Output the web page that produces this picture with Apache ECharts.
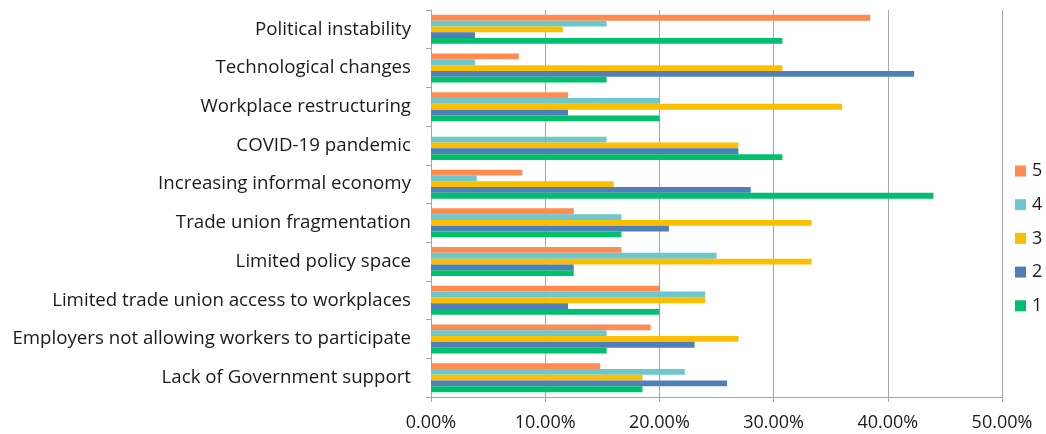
<!DOCTYPE html>
<html>
<head>
<meta charset="utf-8">
<script src="https://cdn.jsdelivr.net/npm/echarts@6/dist/echarts.min.js"></script>
<style>
html,body{margin:0;padding:0;background:#fff;}
#chart{width:1046px;height:434px;}
</style>
</head>
<body>
<div id="chart"></div>
<script>
// Categories listed bottom-to-top (ECharts draws first category at the bottom)
const categories = [
  "Lack of Government support",
  "Employers not allowing workers to participate",
  "Limited trade union access to workplaces",
  "Limited policy space",
  "Trade union fragmentation",
  "Increasing informal economy",
  "COVID-19 pandemic",
  "Workplace restructuring",
  "Technological changes",
  "Political instability"
];
// Values in percent, same order as categories
const s1 = [18.52, 15.38, 20.00, 12.50, 16.67, 44.00, 30.77, 20.00, 15.38, 30.77];
const s2 = [25.93, 23.08, 12.00, 12.50, 20.83, 28.00, 26.92, 12.00, 42.31, 3.85];
const s3 = [18.52, 26.92, 24.00, 33.33, 33.33, 16.00, 26.92, 36.00, 30.77, 11.54];
const s4 = [22.22, 15.38, 24.00, 25.00, 16.67, 4.00, 15.38, 20.00, 3.85, 15.38];
const s5 = [14.81, 19.23, 20.00, 16.67, 12.50, 8.00, 0.00, 12.00, 7.69, 38.46];
// Series listed top bar first within each group
const seriesNames = ["5", "4", "3", "2", "1"];
const seriesColors = ["#FF8B50", "#6CC8CC", "#FBBF00", "#4F7EBA", "#00C06E"];
const seriesData = [s5, s4, s3, s2, s1];
const xTickValues = [0, 10, 20, 30, 40, 50];

const FONT = "Open Sans";
const chart = echarts.init(document.getElementById('chart'), null, {renderer: 'canvas'});
chart.setOption({
  animation: false,
  backgroundColor: '#ffffff',
  textStyle: {fontFamily: FONT},
  grid: {left: 431, right: 44, top: 10, bottom: 37, containLabel: false},
  legend: {
    data: seriesNames,
    orient: 'vertical',
    left: 1010,
    top: 157,
    itemWidth: 11,
    itemHeight: 11,
    itemGap: 15.7,
    icon: 'rect',
    textStyle: {fontFamily: FONT, fontSize: 18, lineHeight: 18, color: '#1a1a1a', padding: [0,0,0,1]}
  },
  xAxis: {
    type: 'value',
    min: xTickValues[0],
    max: xTickValues[xTickValues.length - 1],
    interval: 10,
    axisLine: {show: true, lineStyle: {color: '#A6A6A6', width: 1}},
    axisTick: {show: true, length: 5, lineStyle: {color: '#A6A6A6'}},
    splitLine: {show: true, lineStyle: {color: '#A6A6A6', width: 1}},
    axisLabel: {
      formatter: v => v.toFixed(2) + '%',
      fontFamily: FONT, fontSize: 18, color: '#1a1a1a', margin: 17
    }
  },
  yAxis: {
    type: 'category',
    data: categories,
    axisLine: {show: true, lineStyle: {color: '#A6A6A6', width: 1}},
    axisTick: {show: true, length: 5, lineStyle: {color: '#A6A6A6'}},
    axisLabel: {fontFamily: FONT, fontSize: 18.7, color: '#1a1a1a', margin: 20}
  },
  series: seriesNames.map((n, i) => ({
    name: n,
    type: 'bar',
    data: seriesData[i],
    barGap: '0%',
    barCategoryGap: '25%',
    itemStyle: {color: seriesColors[i]}
  }))
});
</script>
</body>
</html>
